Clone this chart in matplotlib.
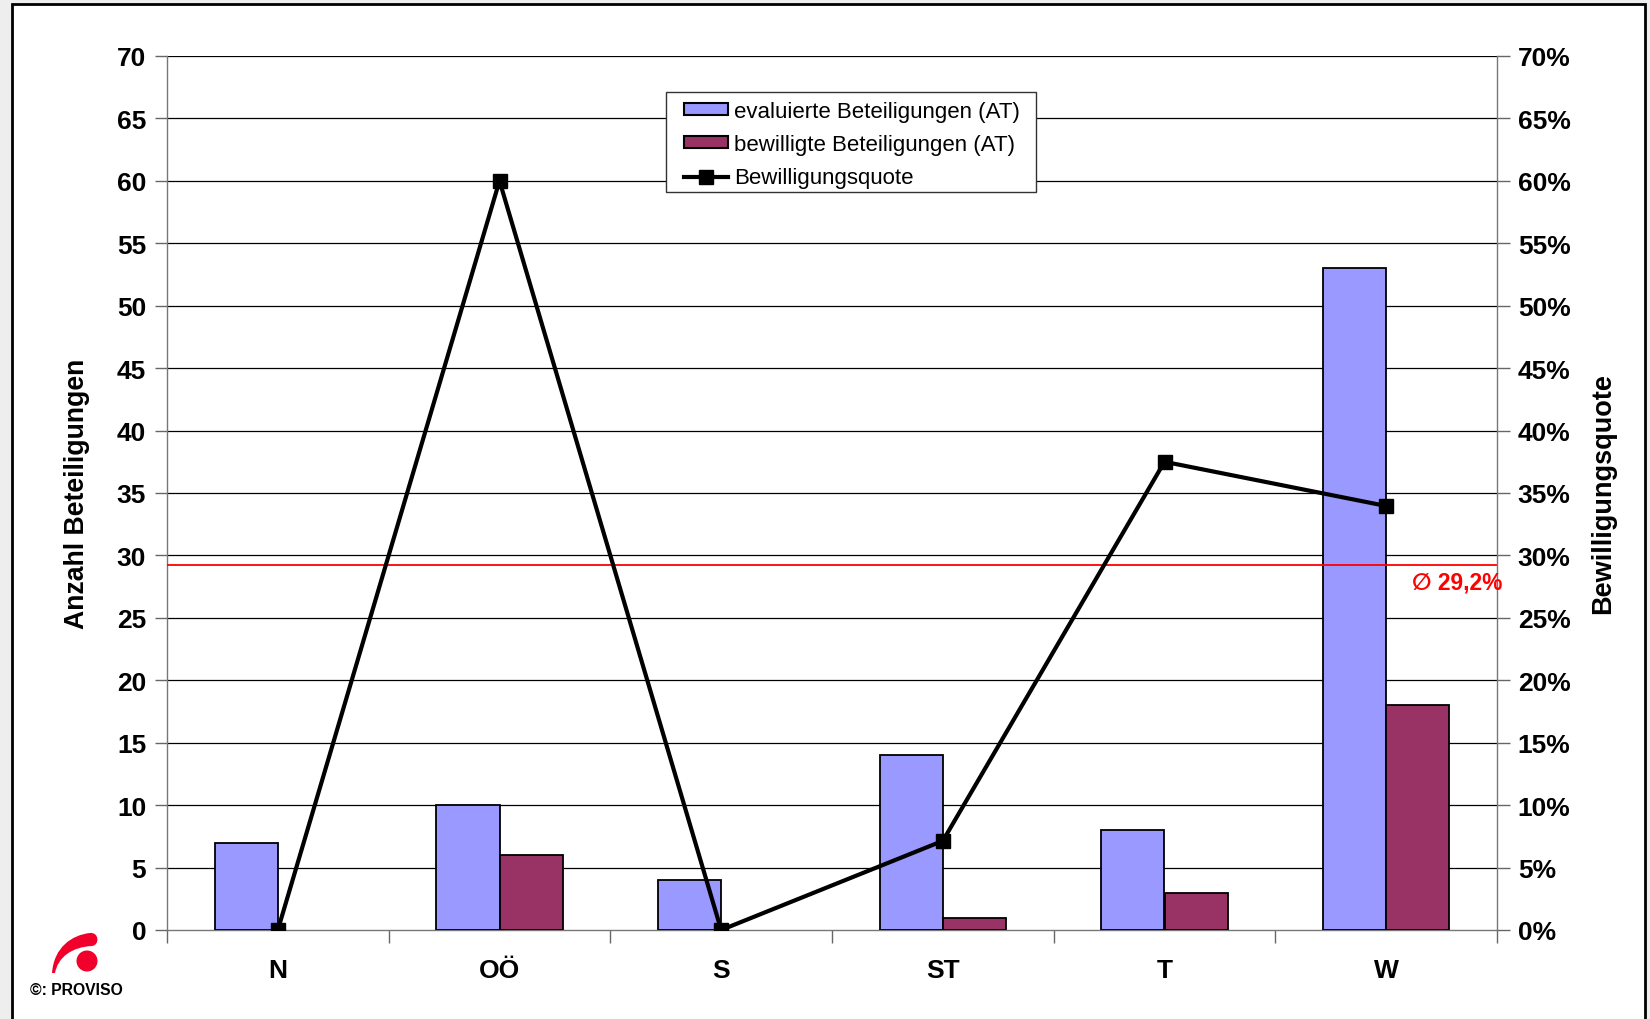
import matplotlib
matplotlib.use("Agg")
import matplotlib.pyplot as plt
from matplotlib.patches import Rectangle, Circle, PathPatch
from matplotlib.path import Path
from matplotlib.lines import Line2D
from matplotlib.transforms import IdentityTransform
import numpy as np

categories = ["N", "OÖ", "S", "ST", "T", "W"]
evaluated = [7, 10, 4, 14, 8, 53]
approved = [0, 6, 0, 1, 3, 18]
quote = [0.0, 0.60, 0.0, 0.0714, 0.375, 0.3396]
avg_quote = 0.292
avg_label = "∅ 29,2%"
left_ticks = list(range(0, 71, 5))
right_ticks = [v / 100 for v in range(0, 71, 5)]

plt.rcParams['font.family'] = ['Liberation Sans', 'DejaVu Sans']

W, H = 1650, 1020
fig = plt.figure(figsize=(W / 100, H / 100), dpi=100, facecolor='#EEEEEE')

def px(x, y):
    return (x / W, 1 - y / H)

frame = Rectangle(px(11.5, 1030), (1645 - 11.5) / W, (1030 - 5) / H,
                  transform=fig.transFigure, facecolor='white',
                  edgecolor='black', linewidth=2, zorder=0)
fig.add_artist(frame)

ax = fig.add_axes([167 / W, 1 - 931 / H, (1497 - 167) / W, (931 - 57) / H])
ax.set_facecolor('none')
ax2 = ax.twinx()

x = np.arange(len(categories))
bw = 0.285
lw_e = [1.3 if v > 0 else 0 for v in evaluated]
lw_a = [1.3 if v > 0 else 0 for v in approved]
ax.bar(x - bw / 2, evaluated, width=bw, color='#9999FF', edgecolor='black',
       linewidth=lw_e, zorder=3)
ax.bar(x + bw / 2, approved, width=bw, color='#993366', edgecolor='black',
       linewidth=lw_a, zorder=3)

ax.set_xlim(-0.5, len(categories) - 0.5)
ax.set_ylim(0, 70)
ax.set_yticks(left_ticks)
ax.set_yticklabels([str(v) for v in left_ticks], fontsize=19, fontweight='bold')
for t in left_ticks[1:]:
    ax.axhline(t, color='black', linewidth=0.9, zorder=1)

ax.set_xticks(x)
ax.set_xticklabels(categories, fontsize=19, fontweight='bold')
ax.set_xticks(np.arange(-0.5, len(categories) + 0.5, 1), minor=True)
ax.tick_params(axis='x', which='major', length=0, pad=20)
ax.tick_params(axis='x', which='minor', length=9, width=1, color='#666666',
               direction='out')
ax.tick_params(axis='y', length=9, width=1, color='#666666', direction='out', pad=6)

for s in ['top', 'right']:
    ax.spines[s].set_visible(False)
ax.spines['left'].set_color('#777777')
ax.spines['bottom'].set_color('#777777')
ax.spines['left'].set_linewidth(1)
ax.spines['bottom'].set_linewidth(1)

ax.set_ylabel('Anzahl Beteiligungen', fontsize=19.2, fontweight='bold', labelpad=19)

ax2.set_ylim(0, 0.70)
ax2.set_yticks(right_ticks)
ax2.set_yticklabels([f"{int(round(v * 100))}%" for v in right_ticks],
                    fontsize=19, fontweight='bold')
ax2.tick_params(axis='y', length=9, width=1, color='#666666', direction='out', pad=6)
for s in ['top', 'left', 'bottom']:
    ax2.spines[s].set_visible(False)
ax2.spines['right'].set_color('#777777')
ax2.spines['right'].set_linewidth(1)
ax2.set_ylabel('Bewilligungsquote', fontsize=19.5, fontweight='bold', labelpad=14)

ax2.axhline(avg_quote, color='#FF0000', linewidth=1.3, zorder=2)
ax2.text(1.004, avg_quote - 0.0038, avg_label, transform=ax2.get_yaxis_transform(),
         ha='right', va='top', color='#FF0000', fontsize=16.4, fontweight='bold')
ax2.plot(x, quote, color='black', linewidth=3, marker='s', markersize=9.5,
         zorder=5)

# legend: frame drawn separately, entries without frame
legend_box = Rectangle(px(666, 193), (1036 - 666) / W, (193 - 93) / H,
                       transform=fig.transFigure, facecolor='white',
                       edgecolor='#333333', linewidth=1, zorder=10)
fig.add_artist(legend_box)
handles = [
    Rectangle((0, 0), 1, 1, facecolor='#9999FF', edgecolor='black', linewidth=1.5),
    Rectangle((0, 0), 1, 1, facecolor='#993366', edgecolor='black', linewidth=1.5),
    Line2D([0], [0], color='black', linewidth=3, marker='s', markersize=10),
]
labels = ['evaluierte Beteiligungen (AT)', 'bewilligte Beteiligungen (AT)',
          'Bewilligungsquote']
leg = fig.legend(handles, labels, loc='upper left',
                 bbox_to_anchor=(684 / W, 1 - 102 / H), bbox_transform=fig.transFigure,
                 fontsize=16, frameon=False, handlelength=2.0, handleheight=0.45,
                 handletextpad=0.25, labelspacing=0.55, borderpad=0.0,
                 borderaxespad=0)
leg.set_zorder(11)

def dp(xp, yp):
    return (xp, H - yp)

verts = [dp(52, 974), dp(54, 948), dp(72, 936), dp(90, 934),
         dp(99, 933), dp(100, 946), dp(92, 947),
         dp(72, 948), dp(58, 958), dp(55, 974), dp(52, 974)]
codes = [Path.MOVETO, Path.CURVE4, Path.CURVE4, Path.CURVE4,
         Path.CURVE4, Path.CURVE4, Path.CURVE4,
         Path.CURVE4, Path.CURVE4, Path.CURVE4, Path.CLOSEPOLY]
fig.add_artist(PathPatch(Path(verts, codes), transform=IdentityTransform(),
                         facecolor='#F0002A', edgecolor='none'))
fig.add_artist(Circle(dp(87, 962), 10.5, transform=IdentityTransform(),
                      facecolor='#F0002A', edgecolor='none'))
fig.text(30 / W, 1 - 991 / H, '©: PROVISO', fontsize=11.3, fontweight='bold',
         ha='left', va='center')

fig.savefig('out.png', dpi=100, facecolor=fig.get_facecolor())
